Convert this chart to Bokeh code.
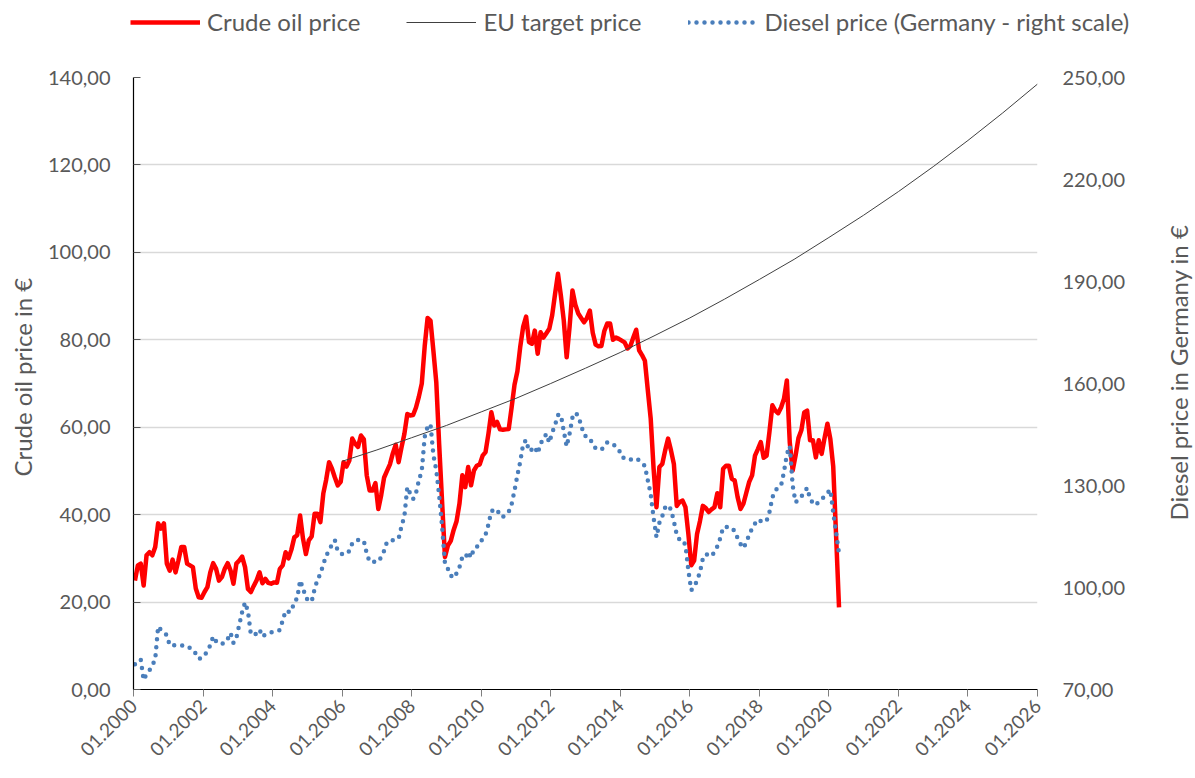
import math
from bokeh.plotting import figure
from bokeh.models import Range1d, LinearAxis, FixedTicker, Legend, LegendItem, Label
from bokeh.layouts import column, row
from bokeh.embed import file_html
from bokeh.resources import INLINE

# ---------------- data (monthly, 01.2000 - 04.2020) ----------------
start_year = 2000
crude_oil = [
    24.9, 28.4, 28.8, 23.8, 30.7, 31.4, 30.7, 32.6, 38.0, 36.8, 38.0, 28.8,  # 2000
    27.2, 29.7, 26.8, 29.5, 32.6, 32.6, 28.8, 28.4, 28.0, 23.1, 21.1, 21.0,  # 2001
    22.3, 23.4, 26.8, 28.9, 27.6, 24.9, 25.7, 27.6, 28.9, 27.2, 24.2, 28.8,  # 2002
    29.5, 30.4, 28.0, 23.0, 22.3, 23.7, 25.0, 26.8, 24.3, 25.3, 24.4, 24.2,  # 2003
    24.5, 24.4, 27.6, 28.4, 31.4, 30.0, 32.0, 34.8, 35.3, 39.8, 34.5, 31.0,  # 2004
    34.1, 35.0, 40.2, 40.2, 38.3, 44.8, 48.0, 52.0, 50.5, 48.5, 46.7, 47.5,  # 2005
    52.0, 51.0, 52.4, 57.4, 56.2, 55.5, 58.1, 57.2, 49.0, 45.5, 45.5, 47.2,  # 2006
    41.3, 44.5, 48.5, 50.0, 51.5, 54.0, 56.0, 52.0, 55.4, 58.5, 63.0, 62.7,  # 2007
    62.8, 64.5, 67.0, 70.0, 78.5, 85.0, 84.4, 77.5, 70.3, 56.0, 43.0, 30.3,  # 2008
    32.9, 34.0, 36.5, 38.5, 42.5, 49.0, 46.3, 50.9, 46.7, 50.1, 51.2, 51.5,  # 2009
    53.5, 54.3, 58.5, 63.4, 60.4, 61.2, 59.5, 59.4, 59.5, 59.6, 64.5, 69.7,  # 2010
    72.8, 78.5, 83.0, 85.3, 79.5, 79.1, 82.1, 76.8, 81.7, 80.5, 81.5, 82.5,  # 2011
    85.6, 90.5, 95.1, 90.1, 84.4, 76.0, 82.9, 91.3, 88.0, 86.0, 85.0, 84.0,  # 2012
    85.0, 86.7, 81.6, 78.9, 78.5, 78.6, 82.0, 83.7, 83.7, 80.0, 80.5, 80.2,  # 2013
    79.8, 79.4, 78.0, 78.6, 80.5, 82.3, 77.6, 76.5, 75.2, 68.5, 62.0, 50.5,  # 2014
    41.7, 50.9, 51.6, 54.7, 57.4, 54.7, 51.6, 42.0, 42.9, 43.2, 41.7, 35.6,  # 2015
    28.4, 29.5, 35.6, 38.5, 42.0, 41.5, 40.6, 41.2, 41.7, 44.9, 41.7, 50.5,  # 2016
    51.2, 51.2, 48.2, 47.8, 44.0, 41.3, 42.5, 45.0, 47.5, 49.0, 53.5, 55.0,  # 2017
    56.6, 53.0, 53.5, 59.0, 65.0, 63.8, 63.2, 64.5, 66.5, 70.7, 56.5, 50.1,  # 2018
    53.5, 57.5, 59.3, 63.4, 63.8, 57.0, 57.0, 53.1, 57.0, 53.9, 57.5, 60.8,  # 2019
    57.3, 51.0, 35.0, 18.8,                                                  # 2020
]
diesel_price = [
    77.4, 78.1, 78.8, 72.8, 74.5, 75.6, 77.0, 79.0, 88.5, 87.5, 86.6, 86.0,  # 2000
    83.0, 83.0, 83.0, 83.0, 83.0, 82.9, 82.8, 82.2, 81.7, 80.5, 79.0, 79.2,  # 2001
    80.0, 81.3, 83.0, 85.6, 84.2, 83.4, 83.5, 83.6, 84.8, 86.6, 83.7, 85.2,  # 2002
    89.0, 92.8, 95.6, 93.0, 86.3, 86.0, 86.5, 87.6, 85.5, 86.2, 86.6, 86.8,  # 2003
    87.0, 87.2, 87.5, 90.3, 93.2, 92.9, 92.9, 95.9, 96.7, 102.1, 99.8, 97.0,  # 2004
    96.0, 95.9, 99.5, 102.3, 104.0, 106.8, 109.3, 111.0, 112.6, 113.9, 110.6, 110.0,  # 2005
    109.6, 110.2, 110.7, 113.0, 113.8, 114.0, 114.0, 113.7, 110.0, 107.6, 107.6, 107.6,  # 2006
    107.6, 109.0, 110.8, 113.5, 113.7, 113.9, 114.1, 114.4, 118.0, 121.0, 129.5, 127.6,  # 2007
    126.0, 127.8, 131.5, 134.4, 144.3, 147.3, 148.0, 139.0, 134.5, 127.0, 118.0, 107.0,  # 2008
    105.5, 103.5, 102.8, 104.2, 106.0, 109.0, 108.6, 110.5, 108.8, 111.5, 112.0, 112.6,  # 2009
    114.5, 115.5, 118.5, 122.4, 122.8, 123.0, 121.0, 120.8, 121.5, 122.3, 124.5, 128.5,  # 2010
    133.0, 137.1, 142.3, 143.4, 140.1, 140.6, 141.4, 139.4, 142.3, 143.8, 145.2, 142.6,  # 2011
    145.5, 147.8, 150.7, 150.8, 146.0, 141.5, 145.2, 150.0, 151.4, 150.5, 147.7, 144.8,  # 2012
    144.3, 144.0, 142.0, 141.0, 140.8, 140.5, 141.6, 142.7, 142.5, 142.2, 141.3, 140.6,  # 2013
    138.5, 137.9, 137.5, 137.6, 137.8, 138.0, 137.4, 136.5, 135.8, 131.5, 127.5, 120.5,  # 2014
    114.8, 119.0, 121.0, 123.5, 124.2, 122.9, 119.5, 115.5, 114.0, 114.0, 112.5, 105.0,  # 2015
    99.2, 100.2, 102.0, 104.5, 108.5, 109.8, 109.6, 109.2, 110.5, 112.1, 114.5, 117.7,  # 2016
    117.8, 117.9, 117.5, 116.6, 114.5, 112.8, 111.6, 113.3, 115.5, 117.4, 118.8, 120.0,  # 2017
    119.5, 119.2, 119.6, 122.2, 126.5, 128.6, 129.3, 130.0, 134.0, 139.2, 141.6, 130.0,  # 2018
    125.1, 125.8, 126.8, 127.9, 129.3, 126.1, 124.8, 124.2, 125.3, 126.0, 126.8, 127.8,  # 2019
    128.8, 122.0, 116.0, 110.0,                                                          # 2020
]
eu_years = list(range(2006, 2027))
eu_target_price = [52.2, 54.8, 57.6, 60.4, 63.5, 66.6, 70.0, 73.5, 77.1, 81.0, 85.0,
                   89.3, 93.8, 98.4, 103.4, 108.5, 113.9, 119.6, 125.6, 131.9, 138.5]

series_names = ["Crude oil price", "EU target price", "Diesel price (Germany - right scale)"]
left_title = "Crude oil price in €"
right_title = "Diesel price in Germany in €"
x_ticks = list(range(2000, 2027, 2))
x_tick_labels = {y: "01.%d" % y for y in x_ticks}
left_ticks = [0, 20, 40, 60, 80, 100, 120, 140]
right_ticks = [70, 100, 130, 160, 190, 220, 250]

# monthly values are plotted at the middle of their month
month_x = [start_year + (i + 0.5) / 12.0 for i in range(len(crude_oil))]

FONT = "Lato"
GREY = "#595959"
CRUDE_STYLE = dict(line_color="#ff0000", line_width=4.5, line_join="round")
EU_STYLE = dict(line_color="#404040", line_width=1)
DIESEL_STYLE = dict(line_color="#4a7ebb", line_width=4.5, line_dash="0 8", line_cap="round")

LEG_H = 63      # height of the legend strip
MAIN_H = 778 - LEG_H


def bare_figure(w, h):
    f = figure(width=w, height=h, output_backend="svg", toolbar_location=None,
               title_location=None, x_axis_location=None, y_axis_location=None,
               x_range=Range1d(0, 1), y_range=Range1d(0, 1),
               min_border_left=0, min_border_right=0, min_border_top=0,
               min_border_bottom=0)
    f.grid.visible = False
    f.outline_line_color = None
    f.background_fill_color = "white"
    f.border_fill_color = "white"
    return f


# ---------------- main chart ----------------
p = figure(width=1120, height=MAIN_H, output_backend="svg", toolbar_location=None,
           title_location=None,
           x_range=Range1d(2000, 2026), y_range=Range1d(0, 140),
           min_border_left=93, min_border_right=123, min_border_top=14,
           min_border_bottom=89)
p.extra_y_ranges = {"diesel": Range1d(70, 250)}
p.outline_line_color = None
p.background_fill_color = "white"
p.border_fill_color = "white"

p.line(month_x, crude_oil, **CRUDE_STYLE)
p.line(eu_years, eu_target_price, **EU_STYLE)
p.line(month_x, diesel_price, y_range_name="diesel", **DIESEL_STYLE)

xa = p.xaxis[0]
xa.ticker = FixedTicker(ticks=x_ticks, minor_ticks=[])
xa.major_label_overrides = x_tick_labels
xa.major_label_orientation = math.pi / 4
xa.major_label_text_font = FONT
xa.major_label_text_font_size = "19px"
xa.major_label_text_color = GREY
xa.major_tick_in = 0
xa.major_tick_out = 7
xa.major_tick_line_color = "#7f7f7f"
xa.minor_tick_line_color = None
xa.axis_line_color = "black"
xa.axis_line_width = 1.2
xa.major_label_standoff = 6

ya = p.yaxis[0]
ya.ticker = FixedTicker(ticks=left_ticks, minor_ticks=[])
ya.major_label_overrides = {v: "%d,00" % v for v in left_ticks}
ya.major_label_text_font = FONT
ya.major_label_text_font_size = "20px"
ya.major_label_text_color = GREY
ya.major_tick_in = 7
ya.major_tick_out = 0
ya.major_tick_line_color = "#595959"
ya.minor_tick_line_color = None
ya.axis_line_color = "black"
ya.axis_line_width = 1.2
ya.major_label_standoff = 23

ra = LinearAxis(y_range_name="diesel", ticker=FixedTicker(ticks=right_ticks, minor_ticks=[]))
ra.major_label_overrides = {v: "%d,00" % v for v in right_ticks}
ra.major_label_text_font = FONT
ra.major_label_text_font_size = "20px"
ra.major_label_text_color = GREY
ra.major_tick_line_color = None
ra.minor_tick_line_color = None
ra.axis_line_color = None
ra.major_label_standoff = 19
p.add_layout(ra, "right")

p.xgrid.visible = False
p.ygrid.ticker = FixedTicker(ticks=left_ticks)
p.ygrid.grid_line_color = "#d9d9d9"
p.ygrid.grid_line_width = 1.5

# ---------------- legend strip ----------------
lg = bare_figure(1195, LEG_H)
# proxy renderers (kept outside the strip's visible range) that only carry the styles
lr1 = lg.line([-2, -1], [-2, -1], **CRUDE_STYLE)
lr2 = lg.line([-2, -1], [-2, -1], **EU_STYLE)
lr3 = lg.line([-2, -1], [-2, -1], **DIESEL_STYLE)
legend = Legend(items=[
    LegendItem(label=series_names[0], renderers=[lr1]),
    LegendItem(label=series_names[1], renderers=[lr2]),
    LegendItem(label=series_names[2], renderers=[lr3]),
], orientation="horizontal", location=(130, 27))
legend.label_text_font = FONT
legend.label_text_font_size = "24px"
legend.label_text_color = GREY
legend.glyph_width = 70
legend.glyph_height = 20
legend.label_standoff = 7
legend.spacing = 46
legend.padding = 0
legend.margin = 0
legend.border_line_color = None
legend.background_fill_alpha = 0
lg.add_layout(legend, "center")

# ---------------- axis titles (read bottom to top) ----------------
# the side strips' frames are aligned with the main frame (row alignment),
# so y is measured from the x-axis line upwards
lt = bare_figure(40, MAIN_H)
lt.add_layout(Label(x=22, y=213, x_units="screen", y_units="screen", text=left_title,
                    angle=math.pi / 2, text_align="left", text_baseline="middle",
                    text_font=FONT, text_font_size="24px", text_color=GREY))
rt = bare_figure(35, MAIN_H)
rt.add_layout(Label(x=18, y=169, x_units="screen", y_units="screen", text=right_title,
                    angle=math.pi / 2, text_align="left", text_baseline="middle",
                    text_font=FONT, text_font_size="24px", text_color=GREY))

layout = column(lg, row(lt, p, rt, spacing=0), spacing=0)
open("out.html", "w").write(file_html(layout, INLINE))
